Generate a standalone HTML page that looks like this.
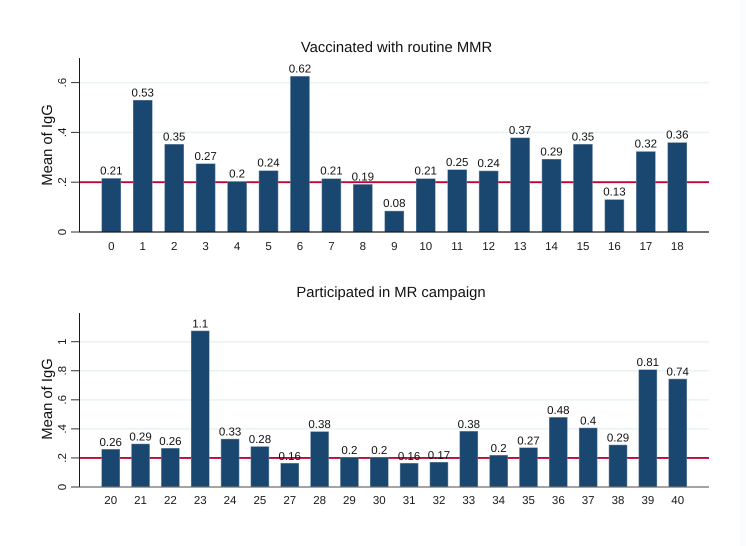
<!DOCTYPE html>
<html lang="en">
<head>
<meta charset="utf-8">
<title>Mean of IgG bar charts</title>
<style>
html,body{margin:0;padding:0;background:#fff;}
svg{display:block;font-family:"Liberation Sans",Arial,sans-serif;text-rendering:geometricPrecision;}
</style>
</head>
<body>
<svg id="chart" xmlns="http://www.w3.org/2000/svg" width="746" height="546" viewBox="0 0 746 546">
<rect x="0" y="0" width="746" height="546" fill="#ffffff"/>
<rect x="740" y="0" width="6" height="546" fill="#fbfcfd"/>
</svg>
<script>
var topCategories = ['0','1','2','3','4','5','6','7','8','9','10','11','12','13','14','15','16','17','18'];
var topValues = [0.215,0.529,0.352,0.274,0.202,0.246,0.625,0.214,0.191,0.084,0.214,0.25,0.245,0.378,0.292,0.352,0.13,0.323,0.359];
var topLabels = ['0.21','0.53','0.35','0.27','0.2','0.24','0.62','0.21','0.19','0.08','0.21','0.25','0.24','0.37','0.29','0.35','0.13','0.32','0.36'];
var topTickValues = [0,0.2,0.4,0.6];
var topTickLabels = ['0','.2','.4','.6'];

var bottomCategories = ['20','21','22','23','24','25','27','28','29','30','31','32','33','34','35','36','37','38','39','40'];
var bottomValues = [0.259,0.296,0.266,1.074,0.33,0.278,0.163,0.381,0.202,0.204,0.163,0.17,0.383,0.218,0.27,0.479,0.406,0.289,0.807,0.743];
var bottomLabels = ['0.26','0.29','0.26','1.1','0.33','0.28','0.16','0.38','0.2','0.2','0.16','0.17','0.38','0.2','0.27','0.48','0.4','0.29','0.81','0.74'];
var bottomTickValues = [0,0.2,0.4,0.6,0.8,1];
var bottomTickLabels = ['0','.2','.4','.6','.8','1'];

var referenceValue = 0.2;

var svg = document.getElementById('chart');
var NS = 'http://www.w3.org/2000/svg';

function make(tag, attrs, text) {
  var el = document.createElementNS(NS, tag);
  for (var k in attrs) { el.setAttribute(k, attrs[k]); }
  if (text !== undefined) { el.textContent = text; }
  
  svg.appendChild(el);
  return el;
}

function drawPanel(p) {
  var yScale = function (v) { return p.baseY - v * p.pxPerUnit; };
  var xScale = function (i) { return p.firstX + i * (p.lastX - p.firstX) / (p.categories.length - 1); };
  var el;

  el = make('text', {x: p.titleX, y: p.titleY, 'text-anchor': 'middle', 'font-size': 14.8, fill: '#111111'}, p.title);
  

  p.tickValues.forEach(function (v, i) {
    var y = yScale(v);
    if (v !== 0) {
      el = make('line', {x1: 80, x2: 709, y1: y, y2: y, stroke: '#eaf2f3', 'stroke-width': 1.5});
      
    }
    el = make('line', {x1: 71, x2: 79.5, y1: y, y2: y, stroke: '#333333', 'stroke-width': 1});
    
    el = make('text', {
      x: 0, y: 0, transform: 'translate(66,' + y + ') rotate(-90)',
      'text-anchor': 'middle', 'font-size': 11.5, fill: '#1a1a1a'
    }, p.tickLabels[i]);
    
  });

  var refY = yScale(referenceValue);
  el = make('line', {x1: 80, x2: 709, y1: refY, y2: refY, stroke: '#c10534', 'stroke-width': 1.8});
  

  p.values.forEach(function (v, i) {
    var cx = xScale(i);
    var top = yScale(v);
    el = make('rect', {
      x: cx - p.barWidth / 2, y: top, width: p.barWidth, height: p.baseY - top,
      fill: '#1a476f', stroke: '#6d8aa6', 'stroke-width': 0.5
    });
    
    el = make('text', {
      x: cx, y: top - p.labelGap, 'text-anchor': 'middle', 'font-size': 11.5, fill: '#111111'
    }, p.labels[i]);
    
    el = make('text', {
      x: cx, y: p.xLabelY, 'text-anchor': 'middle', 'font-size': 11.5, fill: '#1a1a1a'
    }, p.categories[i]);
    
  });

  el = make('line', {x1: 79.5, x2: 79.5, y1: p.axisTop, y2: p.baseY + 0.5, stroke: '#1a1a1a', 'stroke-width': 1});
  
  el = make('line', {x1: 79.5, x2: 709, y1: p.baseY, y2: p.baseY, stroke: p.baseColor, 'stroke-width': 1.2});
  

  el = make('text', {
    x: 0, y: 0, transform: 'translate(52,' + p.yTitleY + ') rotate(-90)',
    'text-anchor': 'middle', 'font-size': 14.8, fill: '#111111'
  }, 'Mean of IgG');
  
}

drawPanel({
  id: 'routine-mmr', title: 'Vaccinated with routine MMR',
  categories: topCategories, values: topValues, labels: topLabels,
  tickValues: topTickValues, tickLabels: topTickLabels,
  baseY: 232, pxPerUnit: 249, axisTop: 58, firstX: 111.3, lastX: 677.3, barWidth: 19,
  labelGap: 4, xLabelY: 250, titleX: 396.5, titleY: 52, yTitleY: 145, baseColor: '#1a1a1a'
});

drawPanel({
  id: 'mr-campaign', title: 'Participated in MR campaign',
  categories: bottomCategories, values: bottomValues, labels: bottomLabels,
  tickValues: bottomTickValues, tickLabels: bottomTickLabels,
  baseY: 487, pxPerUnit: 145.3, axisTop: 313, firstX: 110.7, lastX: 677.7, barWidth: 18,
  labelGap: 3.5, xLabelY: 504, titleX: 391, titleY: 297, yTitleY: 399, baseColor: '#6e6e6e'
});
</script>
</body>
</html>
